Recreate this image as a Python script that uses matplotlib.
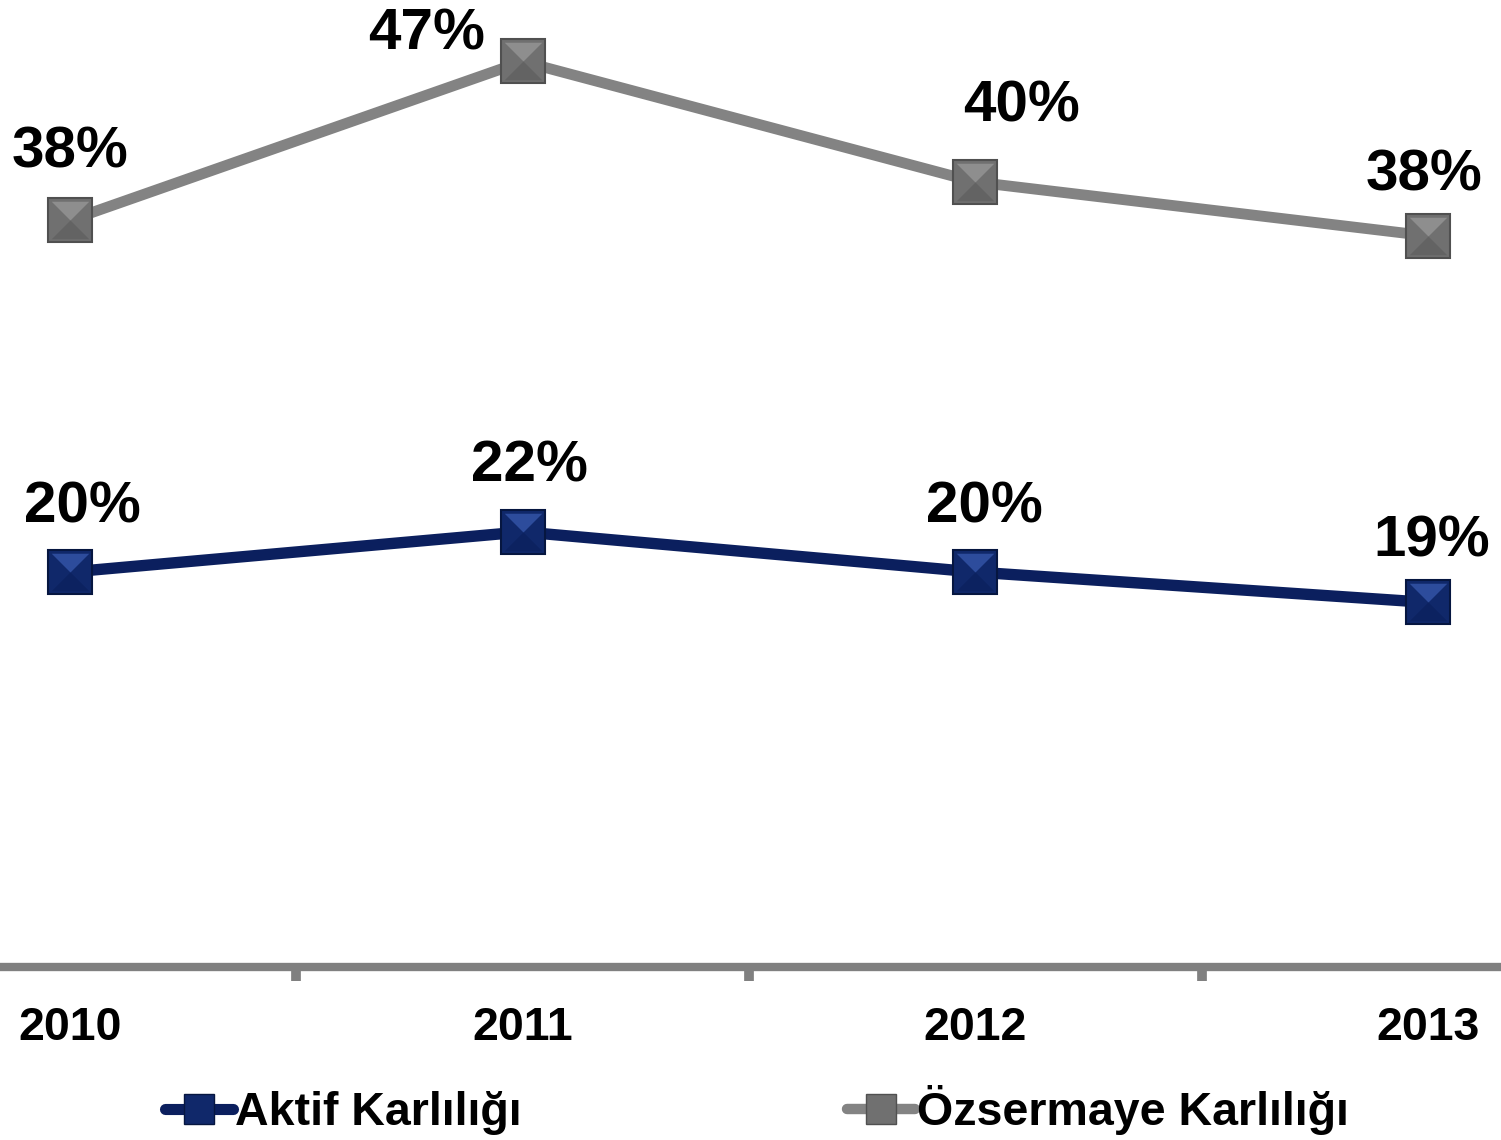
import matplotlib
matplotlib.use("Agg")
import matplotlib.pyplot as plt
from matplotlib.lines import Line2D

years = ["2010", "2011", "2012", "2013"]
ozsermaye = [38.1, 46.2, 40.05, 37.3]
aktif = [20.15, 22.2, 20.15, 18.6]
ozsermaye_labels = ["38%", "47%", "40%", "38%"]
aktif_labels = ["20%", "22%", "20%", "19%"]
series_names = ["Aktif Karlılığı", "Özsermaye Karlılığı"]

W, H = 1501, 1140
fig = plt.figure(figsize=(W / 100, H / 100), dpi=100)
plt.rcParams['font.family'] = ['Liberation Sans', 'DejaVu Sans']

ax_bottom_px = 967
ax = fig.add_axes([0, 1 - ax_bottom_px / H, 1, ax_bottom_px / H])
x = list(range(len(years)))
ax.set_xlim(-70 / 453, 3 + 73 / 453)
ax.set_ylim(0, ax_bottom_px / 19.6)

gray_line = "#838383"
gray_mk = "#707070"
blue_line = "#0b1f5e"
blue_mk = "#10286a"

top_tri = [(-1, 1), (1, 1), (0, 0), (-1, 1)]
bot_tri = [(-1, -1), (1, -1), (0, 0), (-1, -1)]

def draw_series(vals, lc, lw, mfc, mec, top_c, bot_c):
    ax.plot(x, vals, color=lc, lw=lw, zorder=2, solid_capstyle='butt')
    ax.plot(x, vals, ls='none', marker='s', ms=31, mfc=mfc, mec=mec, mew=1.5, zorder=3)
    ax.plot(x, vals, ls='none', marker=top_tri, ms=27, mfc=top_c, mec='none', zorder=4)
    ax.plot(x, vals, ls='none', marker=bot_tri, ms=27, mfc=bot_c, mec='none', zorder=4)

draw_series(ozsermaye, gray_line, 7.8, gray_mk, "#505050", "#8e8e8e", "#636363")
draw_series(aktif, blue_line, 8.2, blue_mk, "#061640", "#2d4c9c", "#0c2260")

px2pt = 0.72
gray_off = [(0, 68), (-96, 27), (46, 76), (-4, 60)]
blue_off = [(12, 65), (7, 65), (9, 65), (4, 61)]
for xi, v, lab, (dx, dy) in zip(x, ozsermaye, ozsermaye_labels, gray_off):
    ax.annotate(lab, (xi, v), xytext=(dx * px2pt, dy * px2pt), textcoords='offset points',
                ha='center', va='center', fontsize=42, fontweight='bold', color='black')
for xi, v, lab, (dx, dy) in zip(x, aktif, aktif_labels, blue_off):
    ax.annotate(lab, (xi, v), xytext=(dx * px2pt, dy * px2pt), textcoords='offset points',
                ha='center', va='center', fontsize=42, fontweight='bold', color='black')

for s in ['top', 'right', 'left']:
    ax.spines[s].set_visible(False)
ax.spines['bottom'].set_color('#808080')
ax.spines['bottom'].set_linewidth(6)
ax.set_yticks([])
ax.set_xticks(x)
ax.set_xticklabels(years, fontsize=33.5, fontweight='bold')
ax.tick_params(axis='x', which='major', length=0, pad=28)
ax.set_xticks([0.5, 1.5, 2.5], minor=True)
ax.tick_params(axis='x', which='minor', length=10, width=7, color='#808080', direction='out')

handles = [
    Line2D([], [], color=blue_line, lw=8, marker='s', ms=22, mfc=blue_mk, mec="#061640", solid_capstyle='round'),
    Line2D([], [], color=gray_line, lw=7.5, marker='s', ms=22, mfc=gray_mk, mec="#505050", solid_capstyle='round'),
]
fig.legend(handles, series_names, loc='center', bbox_to_anchor=(757 / W, 1 - 1110 / H), ncol=2,
           frameon=False, prop={'size': 33.5, 'weight': 'bold'}, handlelength=1.45, handletextpad=0.05,
           columnspacing=7.0, borderpad=0, borderaxespad=0)

fig.savefig("out.png", dpi=100)
